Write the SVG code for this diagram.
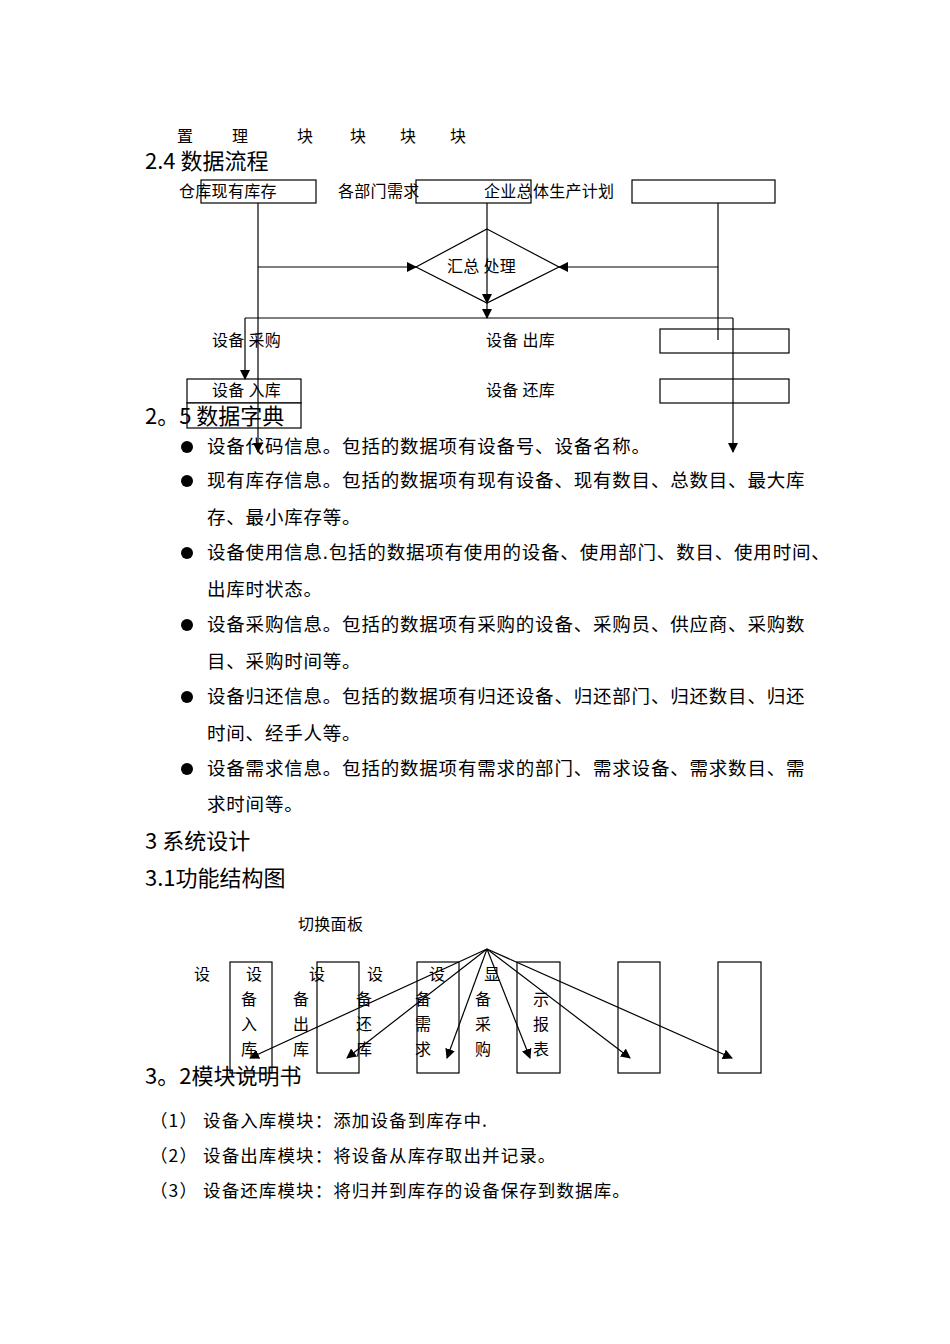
<svg xmlns="http://www.w3.org/2000/svg" width="950" height="1344" viewBox="0 0 950 1344">
<defs>
<style>
text{font-family:"Noto Sans CJK SC","Liberation Sans",sans-serif;fill:#000}
.t{font-size:16px;letter-spacing:0.3px}
.b{font-size:18.5px;letter-spacing:0.8px}
.l{font-size:17.5px;letter-spacing:1.1px}
.h{font-size:22px}
.n{fill:#fff;stroke:#000;stroke-width:1.2}
.c line,.c path{stroke:#000;stroke-width:1.2;fill:none}
</style>
<marker id="a" markerWidth="10" markerHeight="10" refX="9" refY="5" orient="auto" markerUnits="userSpaceOnUse"><path d="M0,0 L10,5 L0,10z" fill="#000"/></marker>
</defs>
<rect width="950" height="1344" fill="#fff"/>
<text class="t" y="142"><tspan x="177">置</tspan><tspan x="232">理</tspan><tspan x="297">块</tspan><tspan x="350">块</tspan><tspan x="400">块</tspan><tspan x="450">块</tspan></text>
<text class="h" x="145" y="169">2.4 数据流程</text>
<g id="n1"><rect class="n" x="201" y="180" width="115" height="23"/><text class="t" x="179" y="197">仓库现有库存</text></g>
<g id="n2"><rect class="n" x="416" y="180" width="115" height="23"/><text class="t" x="338" y="197">各部门需求</text></g>
<g id="n3"><rect class="n" x="632" y="180" width="143" height="23"/><text class="t" x="484" y="197">企业总体生产计划</text></g>
<g id="n4"><path class="n" d="M487,229 L559,267 L487,303 L416,267z"/><text class="t" x="447" y="272">汇总 处理</text></g>
<g id="n5"><rect class="n" x="660" y="329" width="129" height="24"/></g>
<g id="n6"><rect class="n" x="660" y="379" width="129" height="24"/></g>
<g id="n7"><rect class="n" x="187" y="379" width="114" height="24"/><text class="t" x="212" y="396">设备 入库</text></g>
<g id="n8"><rect class="n" x="187" y="403" width="114" height="25"/></g>
<text class="t" x="212" y="346">设备 采购</text>
<text class="t" x="486" y="346">设备 出库</text>
<text class="t" x="486" y="396">设备 还库</text>
<text class="h" x="145" y="424">2。5 数据字典</text>
<g class="c">
<line x1="258" y1="203" x2="258" y2="452" marker-end="url(#a)"/>
<line x1="487" y1="203" x2="487" y2="303" marker-end="url(#a)"/>
<line x1="258" y1="267" x2="416" y2="267" marker-end="url(#a)"/>
<line x1="718" y1="203" x2="718" y2="340"/>
<line x1="718" y1="267" x2="559" y2="267" marker-end="url(#a)"/>
<line x1="487" y1="303" x2="487" y2="318" marker-end="url(#a)"/>
<line x1="245" y1="318" x2="733" y2="318"/>
<line x1="245" y1="318" x2="245" y2="379" marker-end="url(#a)"/>
<line x1="733" y1="318" x2="733" y2="452" marker-end="url(#a)"/>
</g>
<g>
<circle cx="187" cy="447" r="6"/><circle cx="187" cy="481" r="6"/><circle cx="187" cy="553" r="6"/><circle cx="187" cy="625" r="6"/><circle cx="187" cy="697" r="6"/><circle cx="187" cy="769" r="6"/>
<text class="b" x="207" y="453">设备代码信息。包括的数据项有设备号、设备名称。</text>
<text class="b" x="207" y="487">现有库存信息。包括的数据项有现有设备、现有数目、总数目、最大库</text>
<text class="b" x="207" y="524">存、最小库存等。</text>
<text class="b" x="207" y="559">设备使用信息.包括的数据项有使用的设备、使用部门、数目、使用时间、</text>
<text class="b" x="207" y="596">出库时状态。</text>
<text class="b" x="207" y="631">设备采购信息。包括的数据项有采购的设备、采购员、供应商、采购数</text>
<text class="b" x="207" y="668">目、采购时间等。</text>
<text class="b" x="207" y="703">设备归还信息。包括的数据项有归还设备、归还部门、归还数目、归还</text>
<text class="b" x="207" y="740">时间、经手人等。</text>
<text class="b" x="207" y="775">设备需求信息。包括的数据项有需求的部门、需求设备、需求数目、需</text>
<text class="b" x="207" y="811">求时间等。</text>
</g>
<text class="h" x="145" y="849">3 系统设计</text>
<text class="h" x="145" y="886">3.1功能结构图</text>
<text class="t" x="298" y="930">切换面板</text>
<g id="m1"><rect class="n" x="230" y="962" width="42" height="111"/></g>
<g id="m2"><rect class="n" x="317" y="962" width="42" height="111"/></g>
<g id="m3"><rect class="n" x="417" y="962" width="42" height="111"/></g>
<g id="m4"><rect class="n" x="517" y="962" width="43" height="111"/></g>
<g id="m5"><rect class="n" x="618" y="962" width="42" height="111"/></g>
<g id="m6"><rect class="n" x="718" y="962" width="43" height="111"/></g>
<g>
<text class="t" x="194" y="980">设</text><text class="t" x="246" y="980">设</text><text class="t" x="309" y="980">设</text><text class="t" x="367" y="980">设</text><text class="t" x="429" y="980">设</text><text class="t" x="484" y="980">显</text>
<text class="t" x="241" y="1005">备</text><text class="t" x="241" y="1030">入</text><text class="t" x="241" y="1055">库</text>
<text class="t" x="293" y="1005">备</text><text class="t" x="293" y="1030">出</text><text class="t" x="293" y="1055">库</text>
<text class="t" x="356" y="1005">备</text><text class="t" x="356" y="1030">还</text><text class="t" x="356" y="1055">库</text>
<text class="t" x="415" y="1005">备</text><text class="t" x="415" y="1030">需</text><text class="t" x="415" y="1055">求</text>
<text class="t" x="475" y="1005">备</text><text class="t" x="475" y="1030">采</text><text class="t" x="475" y="1055">购</text>
<text class="t" x="533" y="1005">示</text><text class="t" x="533" y="1030">报</text><text class="t" x="533" y="1055">表</text>
</g>
<g class="c">
<line x1="487" y1="949" x2="250" y2="1058" marker-end="url(#a)"/>
<line x1="487" y1="949" x2="347" y2="1058" marker-end="url(#a)"/>
<line x1="487" y1="949" x2="447" y2="1058" marker-end="url(#a)"/>
<line x1="487" y1="949" x2="530" y2="1058" marker-end="url(#a)"/>
<line x1="487" y1="949" x2="630" y2="1058" marker-end="url(#a)"/>
<line x1="487" y1="949" x2="732" y2="1058" marker-end="url(#a)"/>
</g>
<text class="h" x="145" y="1084">3。2模块说明书</text>
<text class="l" x="150" y="1127">（1） 设备入库模块：添加设备到库存中.</text>
<text class="l" x="150" y="1162">（2） 设备出库模块：将设备从库存取出并记录。</text>
<text class="l" x="150" y="1197">（3） 设备还库模块：将归并到库存的设备保存到数据库。</text>
</svg>
